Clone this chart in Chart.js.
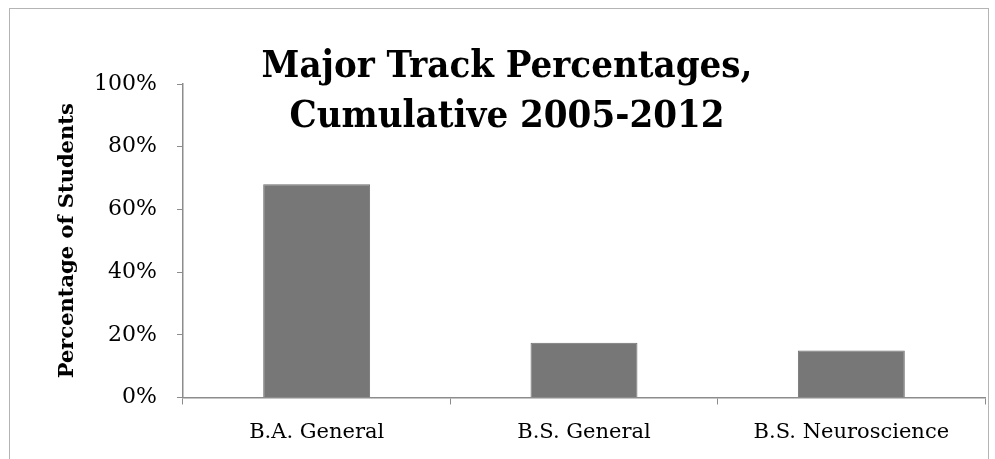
<!DOCTYPE html>
<html>
<head>
<meta charset="utf-8">
<script src="https://cdn.jsdelivr.net/npm/chart.js@4"></script>
<style>
  html, body { margin: 0; padding: 0; background: #fff; }
  #wrap { position: relative; width: 995px; height: 459px; overflow: hidden; }
  #frame { position: absolute; left: 9px; top: 8px; width: 980px; height: 470px; border: 1px solid #b4b4b4; box-sizing: border-box; }
  canvas { position: absolute; left: 0; top: 0; }
</style>
</head>
<body>
<div id="wrap">
  <div id="frame"></div>
  <canvas id="tracks" width="995" height="459"></canvas>
</div>
<script>
const tracks = ["B.A. General", "B.S. General", "B.S. Neuroscience"];
const shares = [68, 17.5, 15];
const yTicks = [0, 20, 40, 60, 80, 100];
const titleLines = ["Major Track Percentages,", "Cumulative 2005-2012"];

const barFill = "#777777";
const axisGray = "#8c8c8c";

// chart title sits over the plot area, so it is painted by hand
const overlayTitle = {
	id: "overlayTitle",
	afterDraw(chart) {
		const ctx = chart.ctx;
		ctx.save();
		ctx.fillStyle = "#000";
		ctx.font = "bold 38px 'DejaVu Serif Condensed', 'DejaVu Serif', serif";
		ctx.textAlign = "center";
		ctx.textBaseline = "alphabetic";
		ctx.fillText(titleLines[0], 507, 77);
		ctx.fillText(titleLines[1], 507, 127);
		ctx.restore();
	},
};

new Chart(document.getElementById("tracks"), {
	type: "bar",
	data: {
		labels: tracks,
		datasets: [
			{
				label: "Percentage of Students",
				data: shares,
				backgroundColor: barFill,
				borderColor: "#6f6f6f",
				borderWidth: 1,
				categoryPercentage: 1,
				barPercentage: 0.4,
			},
		],
	},
	plugins: [overlayTitle],
	options: {
		responsive: false,
		animation: false,
		layout: {
			padding: { left: 0, top: 84, right: 10, bottom: 0 },
		},
		plugins: {
			legend: { display: false },
			tooltip: { enabled: false },
		},
		scales: {
			x: {
				afterFit(scale) {
					scale.height = 61.5;
				},
				grid: {
					display: true,
					drawOnChartArea: false,
					offset: true,
					tickLength: 7,
					color: axisGray,
				},
				border: { color: axisGray, width: 1.5 },
				ticks: {
					color: "#000",
					padding: 15,
					font: { family: "'DejaVu Serif', serif", size: 21 },
				},
			},
			y: {
				min: 0,
				max: 100,
				afterFit(scale) {
					scale.width = 183;
				},
				afterBuildTicks(scale) {
					scale.ticks = yTicks.map((v) => ({ value: v }));
				},
				grid: {
					display: true,
					drawOnChartArea: false,
					tickLength: 6,
					color: axisGray,
				},
				border: { color: axisGray, width: 1.5 },
				title: {
					display: true,
					text: "Percentage of Students",
					color: "#000",
					padding: { top: 55, bottom: 0 },
					font: { family: "'DejaVu Serif', serif", size: 21, weight: "bold" },
				},
				ticks: {
					color: "#000",
					padding: 20,
					font: { family: "'DejaVu Serif', serif", size: 22 },
					callback: (v) => v + "%",
				},
			},
		},
	},
});
</script>
</body>
</html>
